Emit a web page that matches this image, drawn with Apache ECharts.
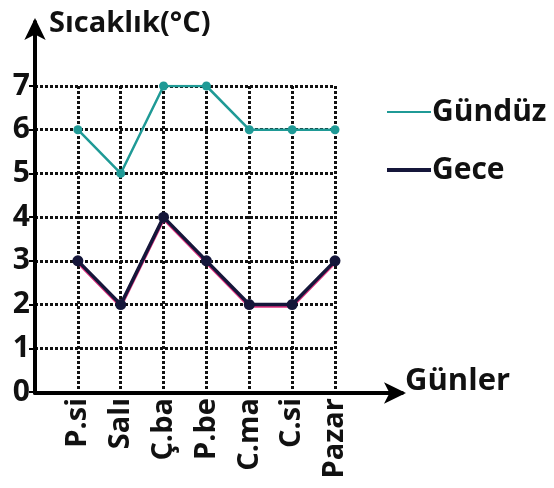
<!DOCTYPE html>
<html><head><meta charset="utf-8">
<script src="https://cdn.jsdelivr.net/npm/echarts@6/dist/echarts.min.js"></script>
<style>html,body{margin:0;padding:0;background:#fff}#c{width:554px;height:488px}</style>
</head><body><div id="c"></div>
<script>
var categories = ['', 'P.si', 'Salı', 'Ç.ba', 'P.be', 'C.ma', 'C.si', 'Pazar'];
var gunduz = [null, 6, 5, 7, 7, 6, 6, 6];
var gece = [null, 3, 2, 4, 3, 2, 2, 3];
var yTicks = [0, 1, 2, 3, 4, 5, 6, 7];

var FONT = '"Open Sans", "Noto Sans", sans-serif';
var chart = echarts.init(document.getElementById('c'));
chart.setOption({
  animation: false,
  backgroundColor: '#fff',
  textStyle: { fontFamily: FONT },
  grid: [
    { left: 35, right: 219, top: 86, bottom: 96 },
    { left: 35, right: 152, top: 22, bottom: 95 }
  ],
  legend: {
    orient: 'vertical', left: 382, top: 88, itemGap: 20,
    itemWidth: 44, itemHeight: 14,
    textStyle: { fontSize: 30, fontWeight: 'bold', color: '#111', fontFamily: FONT, lineHeight: 38, padding: [0, 0, 0, -4] },
    data: [
      { name: 'Gündüz', icon: 'path://M0,6 L44,6 L44,8 L0,8 Z' },
      { name: 'Gece', icon: 'path://M0,5 L44,5 L44,9 L0,9 Z' }
    ]
  },
  xAxis: [
    {
      type: 'category', gridIndex: 0, data: categories, boundaryGap: false,
      axisLine: { show: false }, axisTick: { show: false },
      splitLine: { show: true, lineStyle: { color: '#111', width: 3, type: [3, 2] } },
      axisLabel: {
        rotate: 90, fontSize: 29, fontWeight: 'bold', color: '#111', margin: 6, fontFamily: FONT,
        interval: 0
      }
    },
    {
      type: 'value', gridIndex: 1, min: 0, max: 1,
      axisLine: { show: true, lineStyle: { color: '#000', width: 4 }, symbol: ['none', 'arrow'], symbolSize: [16, 22], symbolOffset: [0, 4] },
      axisTick: { show: false }, axisLabel: { show: false }, splitLine: { show: false },
      name: 'Günler', nameLocation: 'end', nameGap: 3,
      nameTextStyle: { fontSize: 31, fontWeight: 'bold', color: '#111', fontFamily: FONT, verticalAlign: 'bottom', lineHeight: 24 }
    }
  ],
  yAxis: [
    {
      type: 'value', gridIndex: 0, min: 0, max: 7, interval: 1,
      axisLine: { show: false },
      axisTick: { show: true, length: 6, inside: false, lineStyle: { color: '#000', width: 2 } },
      splitLine: { show: true, lineStyle: { color: '#111', width: 3, type: [3, 2] } },
      axisLabel: {
        fontSize: 30, fontWeight: 'bold', color: '#111', margin: 5, fontFamily: FONT,
        formatter: function (v) { return yTicks.indexOf(v) >= 0 ? String(v) : ''; }
      }
    },
    {
      type: 'value', gridIndex: 1, min: 0, max: 1,
      axisLine: { show: true, lineStyle: { color: '#000', width: 4 }, symbol: ['none', 'arrow'], symbolSize: [16, 22], symbolOffset: [0, 4] },
      axisTick: { show: false }, axisLabel: { show: false }, splitLine: { show: false },
      name: 'Sıcaklık(°C)', nameLocation: 'end', nameGap: -16,
      nameTextStyle: { fontSize: 29, fontWeight: 'bold', color: '#111', fontFamily: FONT, align: 'left', padding: [0, 0, 0, 14] }
    }
  ],
  series: [
    {
      name: 'Gündüz', type: 'line', xAxisIndex: 0, yAxisIndex: 0, data: gunduz,
      color: '#1f9a96',
      lineStyle: { width: 2.5, color: '#1f9a96' },
      itemStyle: { color: '#1f9a96' },
      symbol: 'circle', symbolSize: 9, z: 5
    },
    {
      name: 'Gece', type: 'line', xAxisIndex: 0, yAxisIndex: 0, data: gece,
      color: '#15163a',
      lineStyle: { width: 3.5, color: '#15163a', shadowColor: '#e0307f', shadowOffsetY: 1.5, shadowBlur: 0 },
      itemStyle: { color: '#15163a' },
      symbol: 'circle', symbolSize: 11, z: 5
    }
  ]
});
</script></body></html>
